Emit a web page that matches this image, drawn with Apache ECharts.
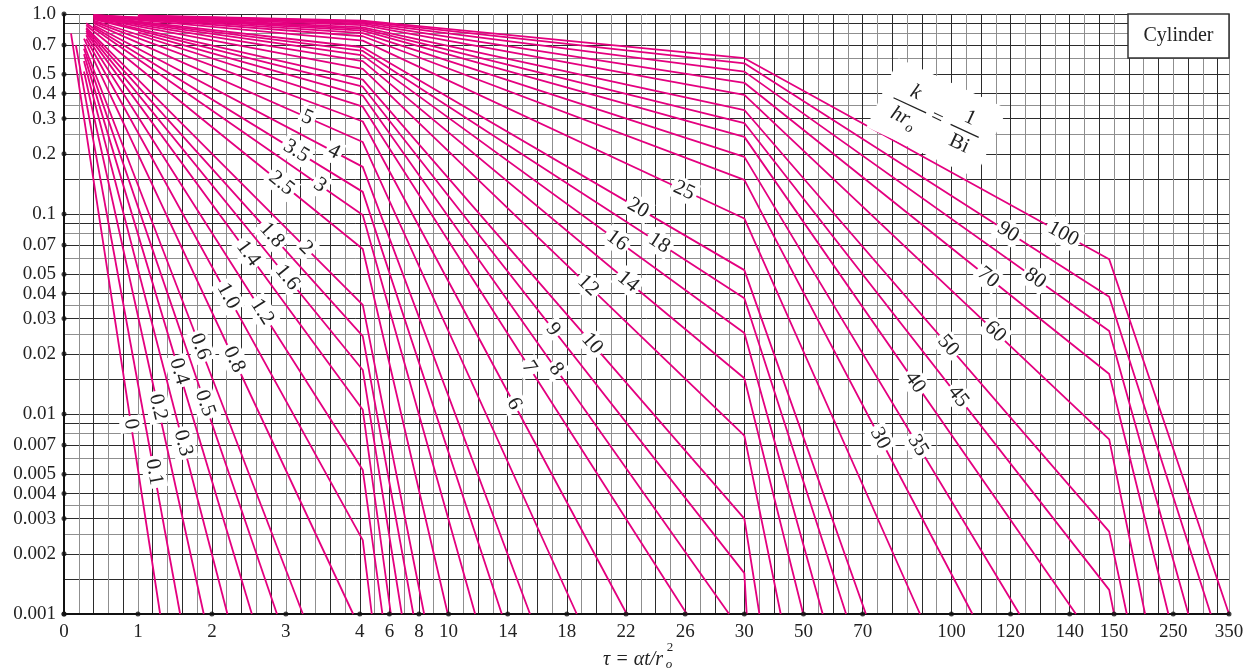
<!DOCTYPE html>
<html><head><meta charset="utf-8">
<script src="https://cdn.jsdelivr.net/npm/echarts@6/dist/echarts.min.js"></script>
<style>html,body{margin:0;padding:0;background:#fff}#c{width:1248px;height:672px}</style>
</head><body><div id="c"></div>
<script>
// ---- data (tau = alpha t / r0^2, theta0 = midplane temperature ratio) ----
const curveKeys = ['0','0.1','0.2','0.3','0.4','0.5','0.6','0.8','1.0','1.2','1.4','1.6','1.8','2','2.5','3','3.5','4','5','6','7','8','9','10','12','14','16','18','20','25','30','35','40','45','50','60','70','80','90','100'];
const curvePoints = [
  [[0.095,0.80],[1.30,0.001]],
  [[0.16,0.70],[1.57,0.001]],
  [[0.27,0.516],[1.89,0.001]],
  [[0.27,0.582],[2.21,0.001]],
  [[0.27,0.630],[2.54,0.001]],
  [[0.27,0.671],[2.88,0.001]],
  [[0.27,0.704],[3.23,0.001]],
  [[0.27,0.753],[3.91,0.001]],
  [[0.3,0.752],[4.2,0.00234],[4.81,0.001]],
  [[0.3,0.783],[4.2,0.00525],[5.53,0.001]],
  [[0.3,0.807],[4.2,0.0105],[6.10,0.001]],
  [[0.3,0.826],[4.2,0.0166],[6.84,0.001]],
  [[0.3,0.842],[4.2,0.0245],[7.62,0.001]],
  [[0.3,0.855],[4.2,0.0351],[8.35,0.001]],
  [[0.3,0.879],[4.2,0.0668],[9.95,0.001]],
  [[0.3,0.898],[4.2,0.0989],[11.8,0.001]],
  [[0.4,0.864],[4.2,0.129],[13.6,0.001]],
  [[0.4,0.879],[4.2,0.172],[15.51,0.001]],
  [[0.4,0.900],[4.2,0.229],[18.67,0.001]],
  [[0.4,0.916],[4.2,0.290],[22.05,0.001]],
  [[0.4,0.928],[4.2,0.344],[26.11,0.001]],
  [[1.0,0.809],[4.2,0.391],[28.97,0.001]],
  [[0.4,0.943],[4.2,0.433],[30,0.0016],[30.8,0.001]],
  [[0.4,0.948],[4.2,0.470],[30,0.0030],[35.1,0.001]],
  [[0.4,0.957],[4.2,0.532],[30,0.0078],[42.3,0.001]],
  [[0.4,0.963],[4.2,0.581],[30,0.0151],[49.9,0.001]],
  [[0.4,0.967],[4.2,0.621],[30,0.0254],[56.5,0.001]],
  [[0.4,0.970],[4.2,0.654],[30,0.0379],[64.4,0.001]],
  [[0.4,0.973],[4.2,0.682],[30,0.0524],[71.1,0.001]],
  [[0.4,0.978],[4.2,0.736],[30,0.095],[89.4,0.001]],
  [[0.4,0.982],[4.2,0.774],[30,0.148],[107.1,0.001]],
  [[0.4,0.985],[4.2,0.803],[30,0.193],[123.0,0.001]],
  [[0.4,0.986],[4.2,0.825],[30,0.243],[141.4,0.001]],
  [[0.4,0.988],[4.2,0.843],[30,0.285],[148.9,0.00132],[150,0.001]],
  [[1.0,0.966],[4.2,0.857],[30,0.331],[148.9,0.00258],[171.5,0.001]],
  [[1.0,0.971],[4.2,0.879],[30,0.394],[148.9,0.00747],[202.4,0.001]],
  [[1.0,0.975],[4.2,0.896],[30,0.453],[148.9,0.01585],[241.8,0.001]],
  [[1.0,0.978],[4.2,0.908],[30,0.515],[148.9,0.026],[277.1,0.001]],
  [[1.0,0.981],[4.2,0.918],[30,0.567],[148.9,0.0386],[317.2,0.001]],
  [[1.0,0.983],[4.2,0.926],[30,0.601],[148.9,0.0594],[350,0.001]]
];
// tau at which each curve's value label sits
const labelTau = [0.906,1.218,1.272,1.61,1.556,1.907,1.84,2.30,2.22,2.68,2.49,3.02,2.81,3.27,2.94,3.46,3.14,3.65,3.29,14.43,15.45,17.27,17.07,19.71,19.44,22.14,21.40,24.24,22.82,25.93,75.9,88.7,87.7,102.3,98.9,114.8,112.4,128.3,119.2,137.8];

const xTickValues = [0,1,2,3,4,6,8,10,14,18,22,26,30,50,70,100,120,140,150,250,350];
const xTickLabels = ['0','1','2','3','4','6','8','10','14','18','22','26','30','50','70','100','120','140','150','250','350'];
const yTickValues = [0.001,0.002,0.003,0.004,0.005,0.007,0.01,0.02,0.03,0.04,0.05,0.07,0.1,0.2,0.3,0.4,0.5,0.7,1.0];
const yTickLabels = ['0.001','0.002','0.003','0.004','0.005','0.007','0.01','0.02','0.03','0.04','0.05','0.07','0.1','0.2','0.3','0.4','0.5','0.7','1.0'];
const yGridValues = [0.0015,0.002,0.0025,0.003,0.0035,0.004,0.005,0.006,0.007,0.008,0.009,
  0.01,0.015,0.02,0.025,0.03,0.035,0.04,0.05,0.06,0.07,0.08,0.09,
  0.1,0.15,0.2,0.25,0.3,0.35,0.4,0.5,0.6,0.7,0.8,0.9,1.0];
const yGridGreyMantissa = [2.5,3.5,6,8];

// piecewise-linear tau axis: tau breakpoints and their positions in grid cells
const TAU_KNOTS = [0,4,30,140,150,250,350];
const U_KNOTS = [0,20,46,68,71,75,78.77];

// ---- helpers ----
function tauToU(t){
  for (let i = 1; i < TAU_KNOTS.length; i++) {
    if (t <= TAU_KNOTS[i] || i === TAU_KNOTS.length - 1) {
      const a = TAU_KNOTS[i-1], b = TAU_KNOTS[i];
      return U_KNOTS[i-1] + (t - a) / (b - a) * (U_KNOTS[i] - U_KNOTS[i-1]);
    }
  }
}
const U_MAX = U_KNOTS[U_KNOTS.length-1];
const xLabelMap = {};
xTickValues.forEach((t,i)=>{ xLabelMap[Math.round(tauToU(t)*100)] = xTickLabels[i]; });

const SERIF = '"Liberation Serif", "DejaVu Serif", serif';
const MAG = '#e4007f';
const DARK = '#2b2b2b', GREY = '#8f8f8f';
const INK = '#222';

const yGridColors = yGridValues.map(v=>{
  const m = v / Math.pow(10, Math.floor(Math.log10(v) + 1e-9));
  return yGridGreyMantissa.some(g=>Math.abs(g-m)<1e-6) ? GREY : DARK;
});

const chart = echarts.init(document.getElementById('c'));

const curveSeries = curveKeys.map((k,i)=>({
  type:'line', name:k, silent:true, symbol:'none', z:5,
  data: curvePoints[i].map(p=>[tauToU(p[0]), p[1]]),
  lineStyle:{color:MAG, width:1.8}
}));

const dotData = xTickValues.map(t=>[tauToU(t),0.001]).concat(yTickValues.map(v=>[0,v]));
const dotSeries = {type:'scatter', silent:true, symbol:'circle', symbolSize:5, z:8, clip:false,
  itemStyle:{color:'#111'}, data:dotData};

function gtext(x, y, text, font, align){
  return {type:'text', x:x, y:y, z:21,
    style:{text:text, font:font, fill:INK, align:align||'center', verticalAlign:'middle'}};
}

const baseOption = {
  animation:false,
  backgroundColor:'#fff',
  grid:{left:64, right:19, top:14, bottom:58},
  xAxis:{
    type:'value', min:0, max:U_MAX, interval:1,
    axisLine:{show:true, onZero:false, lineStyle:{color:'#111', width:2}},
    axisTick:{show:false},
    axisLabel:{
      formatter:(u)=>{ const s = xLabelMap[Math.round(u*100)]; return s === undefined ? '' : s; },
      fontFamily:SERIF, fontSize:19, color:INK, margin:9, showMinLabel:true, showMaxLabel:true
    },
    splitLine:{show:true, lineStyle:{color:[DARK,GREY], width:1}}
  },
  yAxis:{
    type:'log', logBase:10, min:0.001, max:1,
    axisLine:{show:true, onZero:false, lineStyle:{color:'#111', width:2}},
    axisTick:{show:false, customValues:yGridValues},
    axisLabel:{
      customValues:yTickValues,
      formatter:(v)=>{
        for (let i=0;i<yTickValues.length;i++) if (Math.abs(Math.log10(v/yTickValues[i]))<0.002) return yTickLabels[i];
        return '';
      },
      fontFamily:SERIF, fontSize:19, color:INK, margin:8
    },
    splitLine:{show:true, lineStyle:{color:yGridColors, width:1}}
  },
  series: curveSeries.concat([dotSeries]),
  graphic:[
    {type:'rect', shape:{x:1128, y:14, width:101, height:44}, style:{fill:'#fff', stroke:'#333', lineWidth:1.5}, z:20},
    gtext(1178.5, 36, 'Cylinder', '20px '+SERIF),
    {type:'group', x:937, y:118, rotation:-25*Math.PI/180, children:[
      {type:'rect', z:20, shape:{x:-60,y:-38,width:120,height:76}, style:{fill:'#fff'}},
      gtext(-30, -14, 'k', 'italic 21px '+SERIF),
      {type:'line', z:21, shape:{x1:-48,y1:0,x2:-12,y2:0}, style:{stroke:INK, lineWidth:1.3}},
      gtext(-34, 14, 'hr', 'italic 21px '+SERIF),
      gtext(-21, 21, 'o', 'italic 14px '+SERIF),
      gtext(0, 0, '=', '21px '+SERIF),
      gtext(30, -14, '1', '21px '+SERIF),
      {type:'line', z:21, shape:{x1:15,y1:0,x2:46,y2:0}, style:{stroke:INK, lineWidth:1.3}},
      gtext(31, 14, 'Bi', '21px '+SERIF)
    ]},
    gtext(603, 660, '\u03c4 = \u03b1t/r', 'italic 20px '+SERIF, 'left'),
    gtext(670, 648, '2', '13px '+SERIF),
    gtext(669, 665, 'o', 'italic 13px '+SERIF)
  ]
};
chart.setOption(baseOption);

// curve value labels, placed on each curve and rotated along it
const labelData = curveKeys.map((k,i)=>{
  const pts = curvePoints[i].map(p=>[tauToU(p[0]), p[1]]);
  const lu = tauToU(labelTau[i]);
  let j = 1;
  while (j < pts.length-1 && pts[j][0] < lu) j++;
  const a = pts[j-1], b = pts[j];
  const f = (lu - a[0]) / (b[0] - a[0]);
  const lv = Math.pow(10, Math.log10(a[1]) + f*(Math.log10(b[1]) - Math.log10(a[1])));
  const pa = chart.convertToPixel({xAxisIndex:0, yAxisIndex:0}, a);
  const pb = chart.convertToPixel({xAxisIndex:0, yAxisIndex:0}, b);
  const ang = Math.atan2(pb[1]-pa[1], pb[0]-pa[0]) * 180 / Math.PI;
  return {value:[lu, lv], label:{rotate:-ang, formatter:k}};
});
chart.setOption({series: curveSeries.concat([
  dotSeries,
  {type:'scatter', silent:true, symbol:'circle', symbolSize:2, z:10, itemStyle:{color:'rgba(0,0,0,0)'}, data:labelData,
   label:{show:true, position:'inside', fontFamily:SERIF, fontSize:21, color:INK, backgroundColor:'#fff', padding:[1,3], opacity:1}}
])});
</script></body></html>
